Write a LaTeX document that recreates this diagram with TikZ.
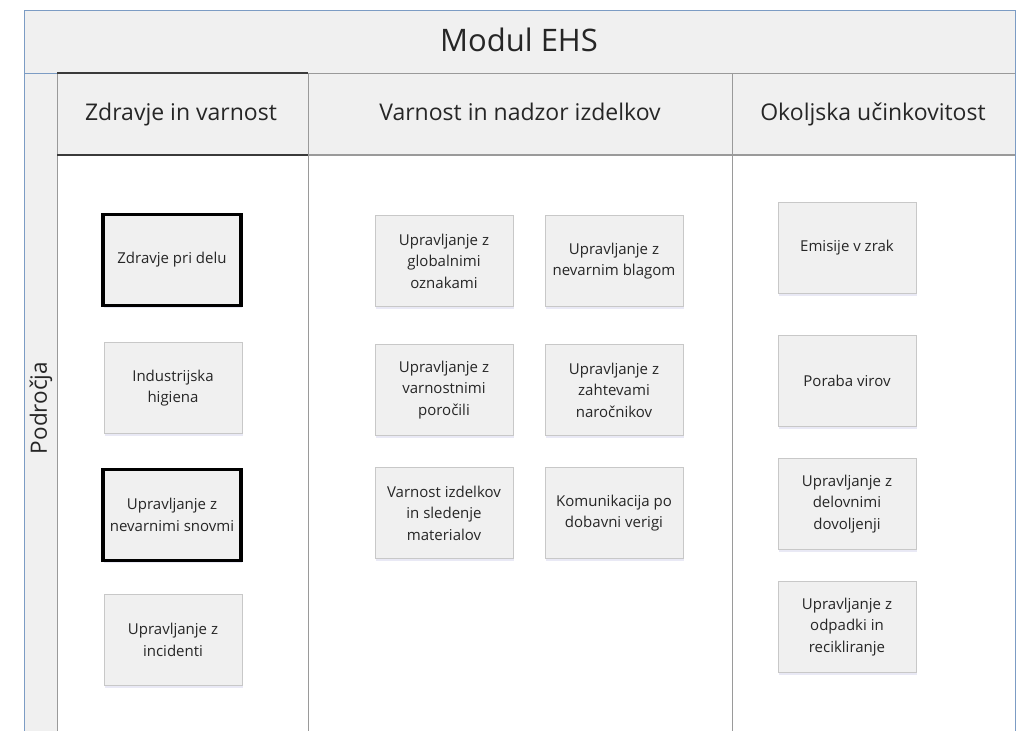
\documentclass[tikz,border=0pt]{standalone}
\usepackage{fontspec}
\setmainfont{Open Sans}
\usetikzlibrary{shadows}
\definecolor{framec}{HTML}{7C9CC4}
\definecolor{panel}{HTML}{F0F0F0}
\definecolor{lanec}{HTML}{9A9A9A}
\definecolor{darkc}{HTML}{3A3A3A}
\definecolor{boxc}{HTML}{C8C8C8}
\definecolor{textc}{HTML}{262626}
\tikzset{
  item/.style={draw=boxc, line width=0.8pt, fill=panel, minimum width=138pt,
    minimum height=91pt, align=center, inner sep=1pt, text=textc,
    font=\fontsize{15}{21.5}\selectfont,
    drop shadow={opacity=0.12, fill=blue!40!gray, shadow xshift=1pt, shadow yshift=-2.5pt}},
  keyitem/.style={item, draw=black, line width=3.5pt, minimum width=138pt, minimum height=91pt},
  lanehead/.style={text=textc, font=\fontsize{23}{26}\selectfont, anchor=base},
}
\begin{document}
\begin{tikzpicture}[x=1pt,y=-1pt]
\useasboundingbox (0,0) rectangle (1018,731);
% pool frame and title band
\fill[white] (24,10) rectangle (1015,731);
\fill[panel] (24,10) rectangle (1015,73);
\fill[panel] (24,73) rectangle (57,731);
\fill[panel] (57,73) rectangle (1015,155);
\draw[framec, line width=1pt] (24,731) -- (24,10) -- (1015,10) -- (1015,731);
\draw[framec, line width=0.8pt] (24,73) -- (57,73);
\node[text=black!85, font=\fontsize{31}{34}\selectfont, anchor=base] (title) at (519,51) {Modul EHS};
\node[rotate=90, text=textc, font=\fontsize{22.5}{26}\selectfont] (side) at (41,408) {Področja};
% lane borders
\draw[lanec, line width=1pt] (57,731) -- (57,73) -- (1015,73);
\draw[lanec, line width=1pt] (308,73) -- (308,731);
\draw[lanec, line width=1pt] (732,73) -- (732,731);
\draw[lanec, line width=1.2pt] (308,155) -- (1015,155);
\draw[darkc, line width=1.6pt] (57,73) -- (308,73);
\draw[darkc, line width=1.6pt] (57,155) -- (308,155);
% lane titles
\node[lanehead] (h1) at (181,120) {Zdravje in varnost};
\node[lanehead] (h2) at (520,120) {Varnost in nadzor izdelkov};
\node[lanehead] (h3) at (873,120) {Okoljska učinkovitost};
% health and safety
\node[keyitem] (a1) at (172,260) {Zdravje pri delu};
\node[item] (a2) at (173,388) {Industrijska\\higiena};
\node[keyitem] (a3) at (172,515) {Upravljanje z\\nevarnimi snovmi};
\node[item] (a4) at (173,640) {Upravljanje z\\incidenti};
% product stewardship
\node[item] (b1) at (444,261) {Upravljanje z\\globalnimi\\oznakami};
\node[item] (b2) at (614,261) {Upravljanje z\\nevarnim blagom};
\node[item] (b3) at (444,390) {Upravljanje z\\varnostnimi\\poročili};
\node[item] (b4) at (614,390) {Upravljanje z\\zahtevami\\naročnikov};
\node[item] (b5) at (444,513) {Varnost izdelkov\\in sledenje\\materialov};
\node[item] (b6) at (614,513) {Komunikacija po\\dobavni verigi};
% environmental performance
\node[item] (c1) at (847,248) {Emisije v zrak};
\node[item] (c2) at (847,381) {Poraba virov};
\node[item] (c3) at (847,504) {Upravljanje z\\delovnimi\\dovoljenji};
\node[item] (c4) at (847,627) {Upravljanje z\\odpadki in\\recikliranje};
\end{tikzpicture}
\end{document}
